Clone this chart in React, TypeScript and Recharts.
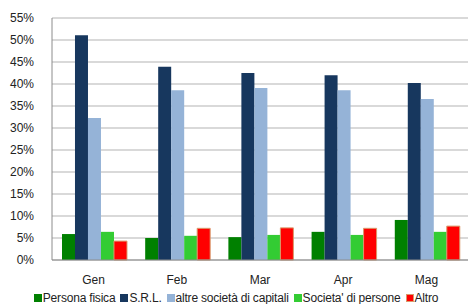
import { Bar, BarChart, CartesianGrid, XAxis, YAxis } from 'recharts';

const MONTHS = ['Gen', 'Feb', 'Mar', 'Apr', 'Mag'];
const PERSONA_FISICA = [5.9, 5.0, 5.2, 6.4, 9.1];
const SRL = [51.1, 43.9, 42.5, 42.0, 40.2];
const ALTRE_CAPITALI = [32.3, 38.6, 39.1, 38.6, 36.6];
const SOC_PERSONE = [6.4, 5.5, 5.7, 5.7, 6.4];
const ALTRO = [4.3, 7.2, 7.3, 7.2, 7.7];
const Y_TICKS = [0, 5, 10, 15, 20, 25, 30, 35, 40, 45, 50, 55];

const data = MONTHS.map((month, i) => ({
  month,
  pf: PERSONA_FISICA[i],
  srl: SRL[i],
  altre: ALTRE_CAPITALI[i],
  sp: SOC_PERSONE[i],
  altro: ALTRO[i],
}));

const SERIES = [
  { key: 'pf', name: 'Persona fisica', color: '#008000', stroke: undefined as string | undefined },
  { key: 'srl', name: 'S.R.L.', color: '#17375e', stroke: undefined },
  { key: 'altre', name: 'altre società di capitali', color: '#95b3d7', stroke: undefined },
  { key: 'sp', name: "Societa' di persone", color: '#33cc33', stroke: undefined },
  { key: 'altro', name: 'Altro', color: '#ff0000', stroke: '#d99a6c' },
];

const FONT = 'Liberation Sans, Arial, sans-serif';

const ChartLegend = () => (
  <div
    style={{
      position: 'absolute',
      left: 0,
      top: 291,
      width: 472,
      display: 'flex',
      justifyContent: 'center',
      gap: 5,
      fontFamily: FONT,
      fontSize: 12,
      lineHeight: '14px',
      color: '#222',
      letterSpacing: -0.2,
    }}
  >
    {SERIES.map((s) => (
      <span key={s.key} style={{ display: 'flex', alignItems: 'center', whiteSpace: 'nowrap' }}>
        <span
          style={{
            width: 8,
            height: 8,
            background: s.color,
            border: s.stroke ? `1px solid ${s.stroke}` : 'none',
            boxSizing: 'border-box',
            marginRight: 1,
            display: 'inline-block',
          }}
        />
        {s.name}
      </span>
    ))}
  </div>
);

export default function App() {
  return (
    <div style={{ position: 'absolute', left: 0, top: 0, width: 472, height: 304, background: '#fff' }}>
      <BarChart
        width={472}
        height={304}
        data={data}
        margin={{ top: 18, right: 4, bottom: 14, left: 0 }}
        barCategoryGap="12%"
        barGap={0}
      >
        <CartesianGrid stroke="#d9d9d9" strokeWidth={2} vertical={false} />
        <XAxis
          dataKey="month"
          height={30}
          tickLine={false}
          axisLine={{ stroke: '#8c8c8c' }}
          tickMargin={9}
          tick={{ fill: '#222', fontSize: 12, fontFamily: FONT }}
        />
        <YAxis
          width={52}
          domain={[0, 55]}
          ticks={Y_TICKS}
          interval={0}
          tickLine={false}
          axisLine={{ stroke: '#8c8c8c' }}
          tickMargin={12}
          tickFormatter={(v) => `${v}%`}
          tick={{ fill: '#222', fontSize: 12, fontFamily: FONT }}
        />
        {SERIES.map((s) => (
          <Bar
            key={s.key}
            dataKey={s.key}
            name={s.name}
            fill={s.color}
            stroke={s.stroke}
            strokeWidth={s.stroke ? 1 : 0}
            isAnimationActive={false}
          />
        ))}
      </BarChart>
      <ChartLegend />
    </div>
  );
}
